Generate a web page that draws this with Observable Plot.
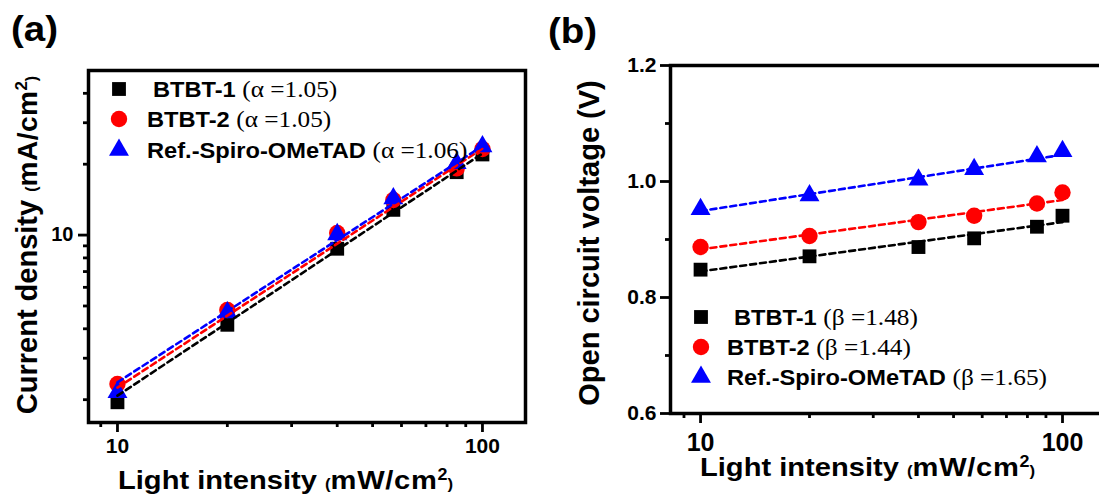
<!DOCTYPE html>
<html><head><meta charset="utf-8">
<script src="https://cdn.jsdelivr.net/npm/d3@7"></script>
<script src="https://cdn.jsdelivr.net/npm/@observablehq/plot@0.6"></script>
<style>
html,body{margin:0;padding:0;background:#fff;overflow:hidden}
#wrap{position:relative;width:1099px;height:497px;overflow:hidden;background:#fff}
#pa,#pb{position:absolute;top:0;height:497px}
#pa{left:0;width:540px}
#pb{left:540px;width:600px}
#ov{position:absolute;left:0;top:0;pointer-events:none}
</style></head><body>
<div id="wrap"><div id="pa"></div><div id="pb"></div><svg id="ov" width="1099" height="497"></svg></div>
<script>
// ---- data ----
const intensity = [10, 20, 40, 57, 85, 100];
const seriesNames = ["BTBT-1", "BTBT-2", "Ref.-Spiro-OMeTAD"];
const seriesColors = ["#000000", "#ff0000", "#0000ff"];
const seriesSymbols = ["square", "circle", "triangle"];
// panel (a): current density (mA/cm2)
const jBTBT1 = [1.95, 4.16, 8.75, 12.8, 18.5, 22.0];
const jBTBT2 = [2.33, 4.81, 10.2, 14.1, 19.2, 23.2];
const jSpiro = [2.15, 4.69, 10.07, 14.3, 20.2, 23.8];
// panel (b): open circuit voltage (V)
const vBTBT1 = [0.848, 0.871, 0.887, 0.902, 0.922, 0.941];
const vBTBT2 = [0.887, 0.906, 0.930, 0.941, 0.962, 0.981];
const vSpiro = [0.952, 0.976, 1.003, 1.021, 1.043, 1.052];
// fitted dashed lines (end points)
const fitX = [10, 100];
const jFit1 = [2.08, 22.2], jFit2 = [2.25, 23.3], jFit3 = [2.37, 23.9];
const vFit1 = [0.845, 0.930], vFit2 = [0.883, 0.968], vFit3 = [0.949, 1.046];
const alphaLabels = ["1.05", "1.05", "1.06"];
const betaLabels = ["1.48", "1.44", "1.65"];
// ticks
const xMajor = [10, 100];
const xMinor = [9, 20, 30, 40, 50, 60, 70, 80, 90];
const jMajor = [10];
const jMinor = [2, 3, 4, 5, 6, 7, 8, 9, 20, 30, 40];
const vMajor = [0.6, 0.8, 1.0, 1.2];
const vMinor = [0.7, 0.9, 1.1];

const FONT = "'Liberation Sans', Arial, sans-serif";
const SERIF = "'Liberation Serif', 'Times New Roman', serif";
const symR = {square: 7.8, circle: 8.2, triangle: 7.4};

function rows(ys, k) { return intensity.map((x, i) => ({x, y: ys[i], k})); }
function fitRows(ys, k) { return fitX.map((x, i) => ({x, y: ys[i], k})); }

function panel(o) {
  const marks = [
    Plot.frame({stroke: "black", strokeWidth: 3.5}),
    Plot.axisX({ticks: xMajor, tickSize: 10, tickPadding: o.xPad, tickFormat: d => String(d), fontSize: o.xFont, fontWeight: "bold", strokeWidth: 2.8, label: null}),
    Plot.axisX({ticks: xMinor, tickSize: 5, tickFormat: () => "", strokeWidth: 2.8, label: null}),
    Plot.axisY({ticks: o.yMajor, tickSize: 10, tickPadding: o.yPad, tickFormat: o.yFormat, fontSize: o.yFont, fontWeight: "bold", strokeWidth: 2.8, label: null}),
    Plot.axisY({ticks: o.yMinor, tickSize: 5, tickFormat: () => "", strokeWidth: 2.8, label: null})
  ];
  o.series.forEach((s, i) => {
    marks.push(Plot.dot(rows(s, seriesNames[i]), {x: "x", y: "y", symbol: seriesSymbols[i], r: symR[seriesSymbols[i]], fill: seriesColors[i], stroke: "none"}));
  });
  o.fits.forEach((s, i) => {
    marks.push(Plot.line(fitRows(s, seriesNames[i]), {x: "x", y: "y", stroke: seriesColors[i], strokeWidth: 2.6, strokeDasharray: "6,4"}));
  });
  return Plot.plot({
    width: o.width, height: 497,
    marginLeft: o.ml, marginRight: o.mr, marginTop: o.mt, marginBottom: o.mb,
    x: {type: "log", domain: o.xDomain},
    y: {type: o.yType, domain: o.yDomain},
    style: {fontFamily: FONT, fontWeight: "bold", background: "transparent", maxWidth: "none", overflow: "visible", color: "black"},
    marks
  });
}

document.getElementById("pa").append(panel({
  width: 540, ml: 88, mr: 15, mt: 70, mb: 75,
  xDomain: [8.33, 131.2], yType: "log", yDomain: [1.6, 50],
  yMajor: jMajor, yMinor: jMinor, yFormat: d => String(d),
  xFont: 21, yFont: 20, xPad: 6, yPad: 5,
  series: [jBTBT1, jBTBT2, jSpiro], fits: [jFit1, jFit2, jFit3]
}));

document.getElementById("pb").append(panel({
  width: 600, ml: 130, mr: 37, mt: 65, mb: 84,
  xDomain: [8.26, 129.8], yType: "linear", yDomain: [0.6, 1.2],
  yMajor: vMajor, yMinor: vMinor, yFormat: d => d.toFixed(1),
  xFont: 25, yFont: 21, xPad: 10, yPad: 4,
  series: [vBTBT1, vBTBT2, vSpiro], fits: [vFit1, vFit2, vFit3]
}));

// ---- overlay: panel letters, axis titles, legends ----
const ov = d3.select("#ov");
const SX = 1.12;

function title(x, y, rotate, parts, anchor, stretch) {
  const t = ov.append("text")
    .attr("transform", `translate(${x},${y})` + (rotate ? " rotate(-90)" : "") + (stretch ? ` scale(${stretch},1)` : ""))
    .attr("text-anchor", anchor || "start")
    .attr("font-family", FONT).attr("font-weight", "bold").attr("fill", "black");
  parts.forEach(p => {
    const s = t.append("tspan").attr("font-size", p.size).text(p.text);
    if (p.dy) s.attr("dy", p.dy);
    if (p.ls) s.attr("letter-spacing", p.ls);
  });
  return t;
}

title(11, 41, false, [{text: "(a)", size: 35}], "start", 1.1);
title(548, 43, false, [{text: "(b)", size: 35}], "start", 1.1);

const unitParts = (u) => [
  {text: "Light intensity ", size: 26},
  {text: "(", size: 15},
  {text: u, size: 26, ls: 0.6},
  {text: "2", size: 16, dy: -9},
  {text: ")", size: 15, dy: 9}
];
title(118, 489, false, unitParts("mW/cm"), "start", SX);
title(700, 476, false, unitParts("mW/cm"), "start", SX);

title(37, 245, true, [
  {text: "Current density ", size: 29},
  {text: "(", size: 16},
  {text: "mA/cm", size: 28, ls: 0.5},
  {text: "2", size: 17, dy: -10},
  {text: ")", size: 16, dy: 10}
], "middle");
title(599, 243, true, [{text: "Open circuit voltage (V)", size: 29}], "middle");

function legend(sx, ys, textXs, greek, vals) {
  seriesNames.forEach((name, i) => {
    const r = symR[seriesSymbols[i]];
    const sym = {square: d3.symbolSquare, circle: d3.symbolCircle, triangle: d3.symbolTriangle}[seriesSymbols[i]];
    ov.append("path").attr("d", d3.symbol(sym, Math.PI * r * r)())
      .attr("transform", `translate(${sx},${ys[i]})`).attr("fill", seriesColors[i]);
    const t = ov.append("text").attr("transform", `translate(${textXs[i]},${ys[i] + 8}) scale(1.1,1)`);
    t.append("tspan").attr("font-family", FONT).attr("font-weight", "bold").attr("font-size", 21.5).text(name + " ");
    t.append("tspan").attr("font-family", SERIF).attr("font-size", 23).text(`(${greek} =${vals[i]})`);
  });
}
legend(119, [89, 119, 150], [153, 147, 147], "α", alphaLabels);
legend(701, [317, 347, 377], [734, 727, 727], "β", betaLabels);
</script>
</body></html>
